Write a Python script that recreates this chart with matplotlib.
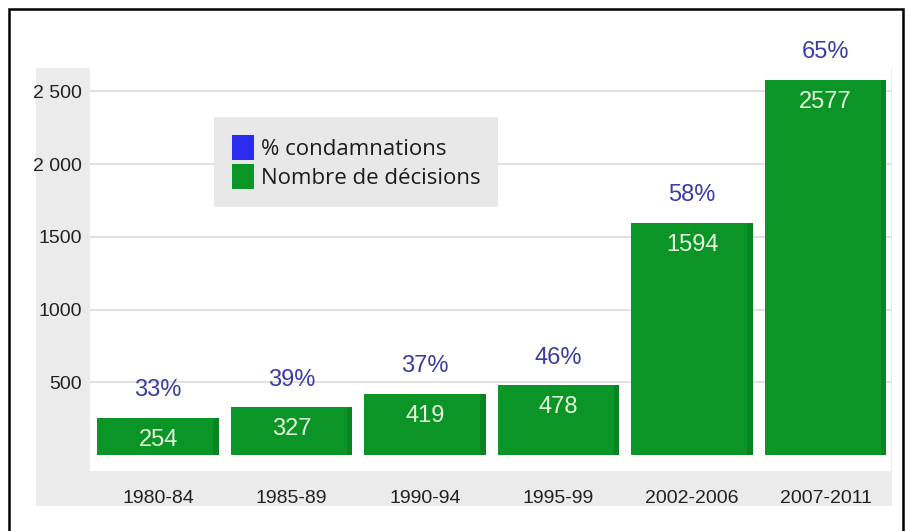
import matplotlib.pyplot as plt
from matplotlib.patches import Rectangle, Patch

periods = ['1980-84', '1985-89', '1990-94', '1995-99', '2002-2006', '2007-2011']
decisions = [254, 327, 419, 478, 1594, 2577]
pct_condamnations = [33, 39, 37, 46, 58, 65]
ytick_vals = [500, 1000, 1500, 2000, 2500]
ytick_labels = ['500', '1000', '1500', '2 000', '2 500']

green = '#0a9526'
green_dark = '#088420'
blue_txt = '#3b3ba6'

plt.rcParams['font.family'] = ['Liberation Sans', 'DejaVu Sans']

fig = plt.figure(figsize=(9.08, 5.31), dpi=100)
fig.patch.set_facecolor('white')

# grey L-shaped panel behind the plot + black outer frame
fig.patches.append(Rectangle((36 / 908, 1 - 506 / 531), (892 - 36) / 908, (506 - 68) / 531,
                             transform=fig.transFigure, facecolor='#ebebeb', edgecolor='none', zorder=0))
fig.patches.append(Rectangle((9 / 908, -0.05), (903 - 9) / 908, 1.05 - 9 / 531,
                             transform=fig.transFigure, facecolor='none', edgecolor='black',
                             linewidth=1.8, zorder=5))

ax = fig.add_axes([90 / 908, 1 - 471 / 531, (891 - 90) / 908, (471 - 68) / 531])
ax.set_facecolor('white')
ax.set_zorder(1)

x = list(range(len(periods)))
width = 0.91
ax.bar(x, decisions, width=width, color=green, zorder=3)
# darker side strip for a slight 3D look
side = 0.04
ax.bar([i + width / 2 - side / 2 for i in x], decisions, width=side, color=green_dark, zorder=4)

for i, (v, p) in enumerate(zip(decisions, pct_condamnations)):
    ax.annotate(f'{p}%', (i, v), xytext=(0, 20), textcoords='offset points',
                ha='center', va='center', fontsize=17, color=blue_txt, annotation_clip=False)
    ax.annotate(str(v), (i, v), xytext=(0, -15.5), textcoords='offset points',
                ha='center', va='center', fontsize=17, color='#e8f7df', zorder=5)

ax.set_xlim(-0.51, 5.49)
ax.set_ylim(-110, 2660)
ax.set_xticks(x)
ax.set_xticklabels(periods, fontsize=14, color='#222222')
ax.set_yticks(ytick_vals)
ax.set_yticklabels(ytick_labels, fontsize=14, color='#222222')
ax.tick_params(axis='both', length=0)
ax.tick_params(axis='x', pad=14)
ax.tick_params(axis='y', pad=6)
for s in ax.spines.values():
    s.set_visible(False)
ax.yaxis.grid(True, color='#e2e2e2', linewidth=1.5, zorder=0)
ax.set_axisbelow(True)

handles = [Patch(facecolor='#2b2bf0', edgecolor='none', label='% condamnations'),
           Patch(facecolor='#0a9526', edgecolor='none', label='Nombre de décisions')]
leg = ax.legend(handles=handles, loc='upper left', bbox_to_anchor=(214 / 908, 1 - 117 / 531),
                bbox_transform=fig.transFigure, prop={'family': ['Open Sans', 'DejaVu Sans'], 'size': 16},
                labelcolor='#1c1c1c', frameon=True, fancybox=False, handlelength=1.0, handleheight=1.4,
                handletextpad=0.3, labelspacing=0.15, borderpad=0.8, borderaxespad=0)
leg.get_frame().set_facecolor('#e8e8e8')
leg.get_frame().set_edgecolor('none')
leg.get_frame().set_alpha(1)

fig.savefig('out.png', dpi=100)
